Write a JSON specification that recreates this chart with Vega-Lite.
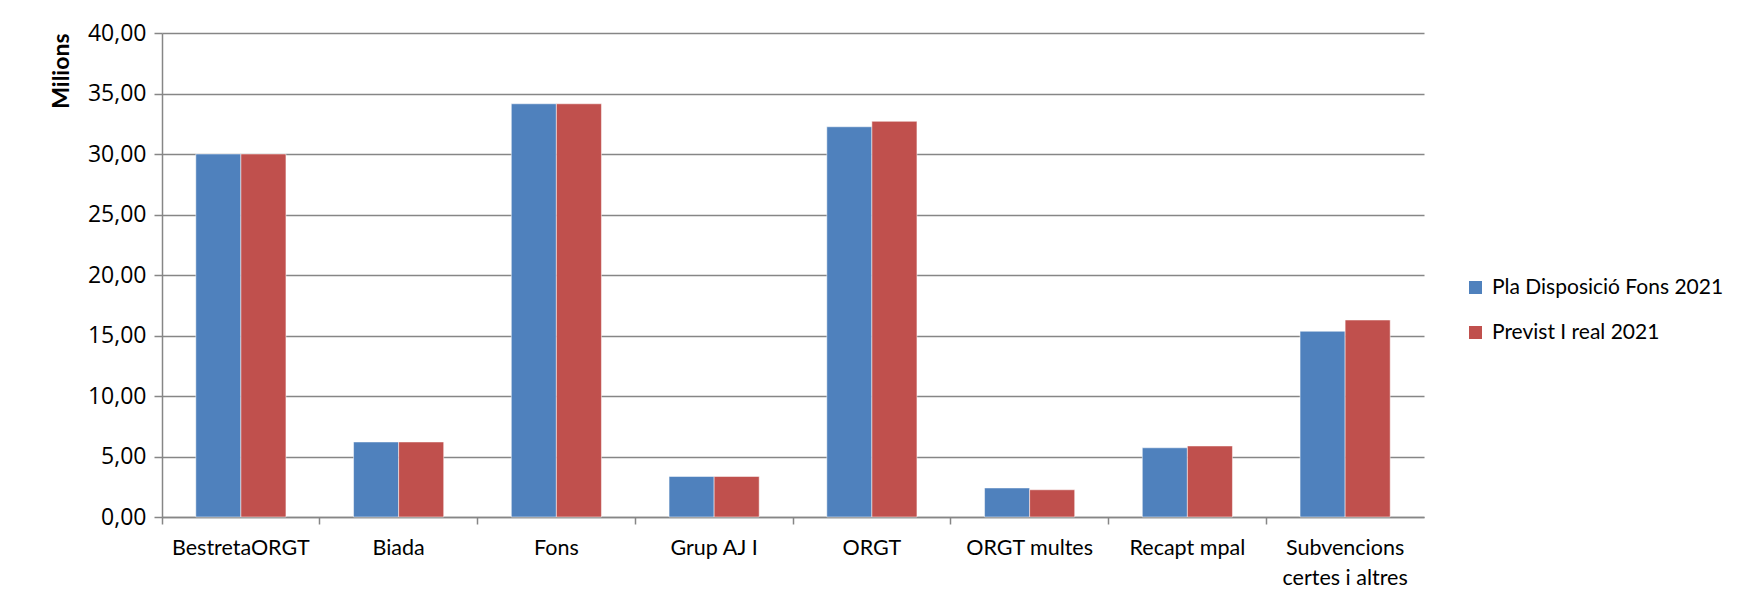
{
  "$schema": "https://vega.github.io/schema/vega-lite/v6.json",
  "autosize": "none",
  "width": 1262,
  "height": 484,
  "padding": {"left": 162, "top": 33, "right": 336, "bottom": 93},
  "background": "white",
  "data": {
    "values": [
      {"cat": "BestretaORGT", "serie": "Pla Disposició Fons 2021", "val": 30.0},
      {"cat": "BestretaORGT", "serie": "Previst I real 2021", "val": 30.0},
      {"cat": "Biada", "serie": "Pla Disposició Fons 2021", "val": 6.2},
      {"cat": "Biada", "serie": "Previst I real 2021", "val": 6.2},
      {"cat": "Fons", "serie": "Pla Disposició Fons 2021", "val": 34.15},
      {"cat": "Fons", "serie": "Previst I real 2021", "val": 34.15},
      {"cat": "Grup AJ I", "serie": "Pla Disposició Fons 2021", "val": 3.35},
      {"cat": "Grup AJ I", "serie": "Previst I real 2021", "val": 3.35},
      {"cat": "ORGT", "serie": "Pla Disposició Fons 2021", "val": 32.25},
      {"cat": "ORGT", "serie": "Previst I real 2021", "val": 32.7},
      {"cat": "ORGT multes", "serie": "Pla Disposició Fons 2021", "val": 2.4},
      {"cat": "ORGT multes", "serie": "Previst I real 2021", "val": 2.25},
      {"cat": "Recapt mpal", "serie": "Pla Disposició Fons 2021", "val": 5.72},
      {"cat": "Recapt mpal", "serie": "Previst I real 2021", "val": 5.87},
      {"cat": "Subvencions certes i altres", "serie": "Pla Disposició Fons 2021", "val": 15.35},
      {"cat": "Subvencions certes i altres", "serie": "Previst I real 2021", "val": 16.28}
    ]
  },
  "mark": {"type": "bar", "stroke": "#ffffff", "strokeOpacity": 0.5, "strokeWidth": 1},
  "encoding": {
    "x": {
      "field": "cat",
      "type": "nominal",
      "sort": null,
      "scale": {"paddingInner": 0, "paddingOuter": 0},
      "axis": {
        "title": null,
        "labelAngle": 0,
        "bandPosition": 0,
        "labelFont": "Lato",
        "labelFontSize": 21.5,
        "labelColor": "#000000",
        "labelPadding": 13,
        "labelLineHeight": 30,
        "labelBaseline": "top",
        "labelExpr": "datum.label == 'Subvencions certes i altres' ? ['Subvencions', 'certes i altres'] : datum.label",
        "domainColor": "#868686",
        "domainWidth": 1.5,
        "tickColor": "#868686",
        "tickWidth": 1.5,
        "tickSize": 7,
        "grid": false
      }
    },
    "xOffset": {
      "field": "serie",
      "type": "nominal",
      "scale": {"paddingInner": 0, "paddingOuter": 0.75}
    },
    "y": {
      "field": "val",
      "type": "quantitative",
      "scale": {"domain": [0, 40], "nice": false},
      "axis": {
        "title": "Milions",
        "titleFont": "Lato",
        "titleFontSize": 23,
        "titleFontWeight": "bold",
        "titleColor": "#000000",
        "titleAnchor": "end",
        "titlePadding": 14,
        "values": [0, 5, 10, 15, 20, 25, 30, 35, 40],
        "labelExpr": "replace(format(datum.value, '.2f'), '.', ',')",
        "labelFont": "Open Sans",
        "labelFontSize": 23,
        "labelColor": "#000000",
        "labelPadding": 8,
        "domainColor": "#868686",
        "domainWidth": 1.5,
        "tickColor": "#868686",
        "tickWidth": 1.5,
        "tickSize": 8,
        "grid": true,
        "gridColor": "#868686",
        "gridWidth": 1.5
      }
    },
    "color": {
      "field": "serie",
      "type": "nominal",
      "scale": {
        "domain": ["Pla Disposició Fons 2021", "Previst I real 2021"],
        "range": ["#4F81BD", "#C0504D"]
      },
      "legend": {
        "title": null,
        "orient": "none",
        "legendX": 1303,
        "legendY": 244,
        "symbolType": "square",
        "symbolSize": 170,
        "symbolStrokeWidth": 0,
        "labelFont": "Lato",
        "labelFontSize": 21,
        "labelColor": "#000000",
        "labelOffset": 6,
        "rowPadding": 23,
        "labelLimit": 400
      }
    }
  },
  "config": {
    "view": {"stroke": null}
  }
}
